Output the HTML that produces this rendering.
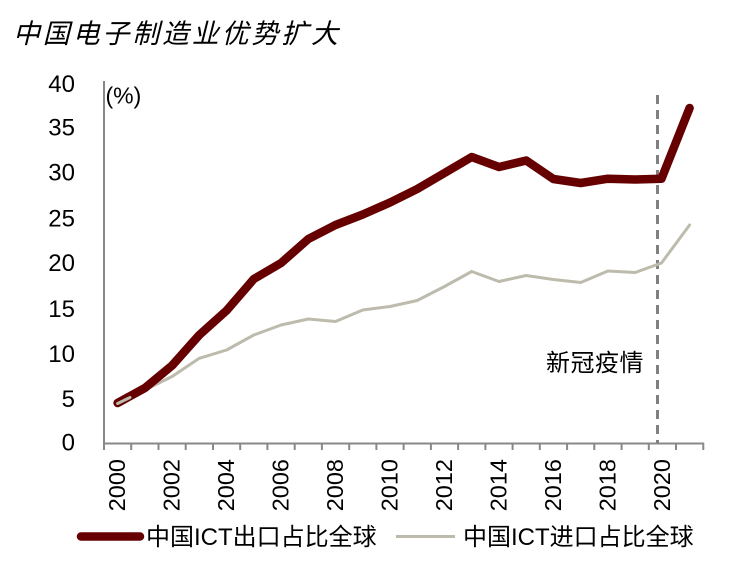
<!DOCTYPE html>
<html>
<head>
<meta charset="utf-8">
<style>
  html, body { margin:0; padding:0; background:#ffffff; }
  body { width:740px; height:564px; overflow:hidden; }
  svg { display:block; }
  .num { font-family:"Liberation Sans", Arial, sans-serif; fill:#000; }
  .cjk { font-family:"Liberation Sans", "Noto Sans CJK SC", "WenQuanYi Zen Hei", sans-serif; fill:#000; }
</style>
</head>
<body>
<svg width="740" height="564" viewBox="0 0 740 564" xmlns="http://www.w3.org/2000/svg">
  <rect x="0" y="0" width="740" height="564" fill="#ffffff"/>

  <!-- Title -->
  <text class="cjk" x="13" y="43" font-size="27" font-style="italic" letter-spacing="2.8">中国电子制造业优势扩大</text>

  <!-- Y tick labels -->
  <g class="num" font-size="24" text-anchor="end">
    <text x="75" y="92">40</text>
    <text x="75" y="135.5">35</text>
    <text x="75" y="180.5">30</text>
    <text x="75" y="226.5">25</text>
    <text x="75" y="271">20</text>
    <text x="75" y="317">15</text>
    <text x="75" y="362">10</text>
    <text x="75" y="407">5</text>
    <text x="75" y="450.5">0</text>
  </g>

  <!-- (%) -->
  <text class="num" x="105.5" y="103.5" font-size="23">(%)</text>

  <!-- Axes -->
  <line x1="104" y1="81" x2="104" y2="444" stroke="#888888" stroke-width="2"/>
  <line x1="103" y1="443.5" x2="704" y2="443.5" stroke="#888888" stroke-width="2"/>
  <!-- X ticks -->
  <g stroke="#888888" stroke-width="2">
    <line x1="104" y1="443" x2="104" y2="450"/>
    <line x1="131.2" y1="443" x2="131.2" y2="450"/>
    <line x1="158.5" y1="443" x2="158.5" y2="450"/>
    <line x1="185.7" y1="443" x2="185.7" y2="450"/>
    <line x1="213" y1="443" x2="213" y2="450"/>
    <line x1="240.2" y1="443" x2="240.2" y2="450"/>
    <line x1="267.4" y1="443" x2="267.4" y2="450"/>
    <line x1="294.7" y1="443" x2="294.7" y2="450"/>
    <line x1="321.9" y1="443" x2="321.9" y2="450"/>
    <line x1="349.2" y1="443" x2="349.2" y2="450"/>
    <line x1="376.4" y1="443" x2="376.4" y2="450"/>
    <line x1="403.6" y1="443" x2="403.6" y2="450"/>
    <line x1="430.9" y1="443" x2="430.9" y2="450"/>
    <line x1="458.1" y1="443" x2="458.1" y2="450"/>
    <line x1="485.4" y1="443" x2="485.4" y2="450"/>
    <line x1="512.6" y1="443" x2="512.6" y2="450"/>
    <line x1="539.8" y1="443" x2="539.8" y2="450"/>
    <line x1="567.1" y1="443" x2="567.1" y2="450"/>
    <line x1="594.3" y1="443" x2="594.3" y2="450"/>
    <line x1="621.6" y1="443" x2="621.6" y2="450"/>
    <line x1="648.8" y1="443" x2="648.8" y2="450"/>
    <line x1="676" y1="443" x2="676" y2="450"/>
    <line x1="703.3" y1="443" x2="703.3" y2="450"/>
  </g>

  <!-- X labels (rotated) -->
  <g class="num" font-size="23.5" text-anchor="end">
    <text transform="translate(125.2,459) rotate(-90)">2000</text>
    <text transform="translate(179.7,459) rotate(-90)">2002</text>
    <text transform="translate(234.2,459) rotate(-90)">2004</text>
    <text transform="translate(288.7,459) rotate(-90)">2006</text>
    <text transform="translate(343.1,459) rotate(-90)">2008</text>
    <text transform="translate(397.6,459) rotate(-90)">2010</text>
    <text transform="translate(452.1,459) rotate(-90)">2012</text>
    <text transform="translate(506.6,459) rotate(-90)">2014</text>
    <text transform="translate(561.0,459) rotate(-90)">2016</text>
    <text transform="translate(615.5,459) rotate(-90)">2018</text>
    <text transform="translate(670.0,459) rotate(-90)">2020</text>
  </g>

  <!-- Dashed COVID line -->
  <line x1="657.5" y1="95" x2="657.5" y2="443" stroke="#808080" stroke-width="3" stroke-dasharray="9,6"/>
  <text class="cjk" x="546" y="371" font-size="24" letter-spacing="0.5">新冠疫情</text>

  <!-- Import series (grey-beige) -->
  <polyline fill="none" stroke="#BDBBAC" stroke-width="3" stroke-linejoin="round" stroke-linecap="round"
    points="117.6,403.5 144.9,390 172.1,376.5 199.3,358.3 226.6,350 253.8,335 281.1,325 308.3,319 335.5,321.5 362.8,310 390,306.5 417.2,300.5 444.5,286.5 471.7,271.5 499,281.5 526.2,275.5 553.4,279.5 580.7,282.5 607.9,271 635.2,272.5 661.5,263 689.6,225"/>

  <!-- Export series (dark maroon, thick) -->
  <polyline fill="none" stroke="#660000" stroke-width="8.5" stroke-linejoin="round" stroke-linecap="round"
    points="117.6,403 144.9,388 172.1,365.5 199.3,335 226.6,310.5 253.8,279 281.1,263 308.3,239 335.5,225 362.8,214.5 390,202.5 417.2,189 444.5,173 471.7,157 499,167 526.2,160.5 553.4,179 580.7,183 607.9,178.7 635.2,179.5 661.5,178.7 689.6,108"/>
  <!-- redraw start of import over export start (light inner at origin) -->
  <polyline fill="none" stroke="#BDBBAC" stroke-width="3" stroke-linecap="round"
    points="117.6,403.5 130,397.5"/>

  <!-- Legend -->
  <line x1="81" y1="536.5" x2="140" y2="536.5" stroke="#660000" stroke-width="8.5" stroke-linecap="round"/>
  <text class="cjk" x="146" y="545" font-size="24">中国ICT出口占比全球</text>
  <line x1="396" y1="536.5" x2="455" y2="536.5" stroke="#BDBBAC" stroke-width="3"/>
  <text class="cjk" x="463" y="545" font-size="24">中国ICT进口占比全球</text>
</svg>
</body>
</html>
